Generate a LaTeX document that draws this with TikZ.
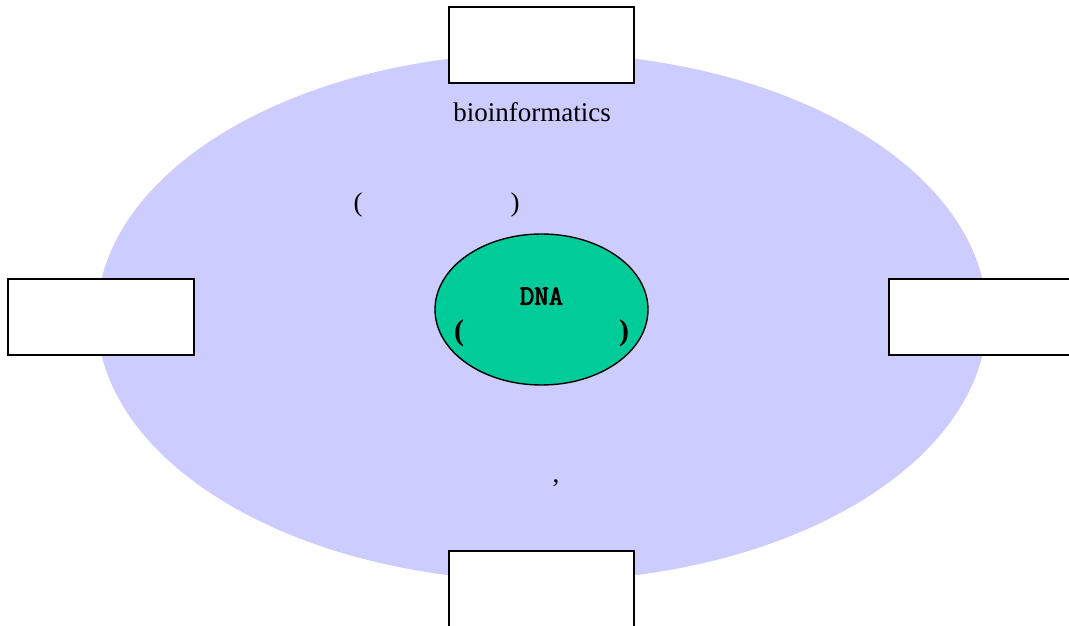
\documentclass[tikz,border=0pt]{standalone}
\usepackage{fontspec}
\usetikzlibrary{shapes.geometric}
\setmainfont{Liberation Serif}
\newfontfamily\dnafont[FakeBold=3]{Latin Modern Mono}
\definecolor{lavender}{HTML}{CCCCFF}
\definecolor{seagreen}{HTML}{00CC99}
\begin{document}
\begin{tikzpicture}[x=1pt,y=-1pt,
  emptybox/.style={draw=black,line width=1.6pt,fill=white},
  plainlabel/.style={inner sep=0pt,font=\fontsize{27}{30}\selectfont},
  boldparen/.style={inner sep=0pt,font=\fontsize{30}{33}\selectfont\bfseries}]
\useasboundingbox (0,0) rectangle (1069,626);
% outer field
\fill[lavender] (542,317) ellipse [x radius=445, y radius=264];
% four boxes around the field
\node[emptybox,minimum width=185pt,minimum height=76pt,inner sep=0pt] (top) at (541.5,45) {};
\node[emptybox,minimum width=186pt,minimum height=76pt,inner sep=0pt] (left) at (101,317) {};
\node[emptybox,minimum width=186pt,minimum height=76pt,inner sep=0pt] (right) at (982,317) {};
\node[emptybox,minimum width=185pt,minimum height=76pt,inner sep=0pt] (bottom) at (541.5,589) {};
% labels in the field
\node[plainlabel] (bio) at (532,112) {bioinformatics};
\node[plainlabel] (lp) at (358,205) {(};
\node[plainlabel] (rp) at (515,205) {)};
\node[plainlabel] (comma) at (556,483) {,};
% inner core
\node[draw=black,line width=1.4pt,fill=seagreen,ellipse,minimum width=213pt,minimum height=151pt,inner sep=0pt] (core) at (541.5,309.5) {};
\node[inner sep=0pt,font=\fontsize{28}{30}\selectfont\dnafont] (dna) at (541.5,296) {DNA};
\node[boldparen] (ilp) at (459,333) {(};
\node[boldparen] (irp) at (624,333) {)};
\end{tikzpicture}
\end{document}
